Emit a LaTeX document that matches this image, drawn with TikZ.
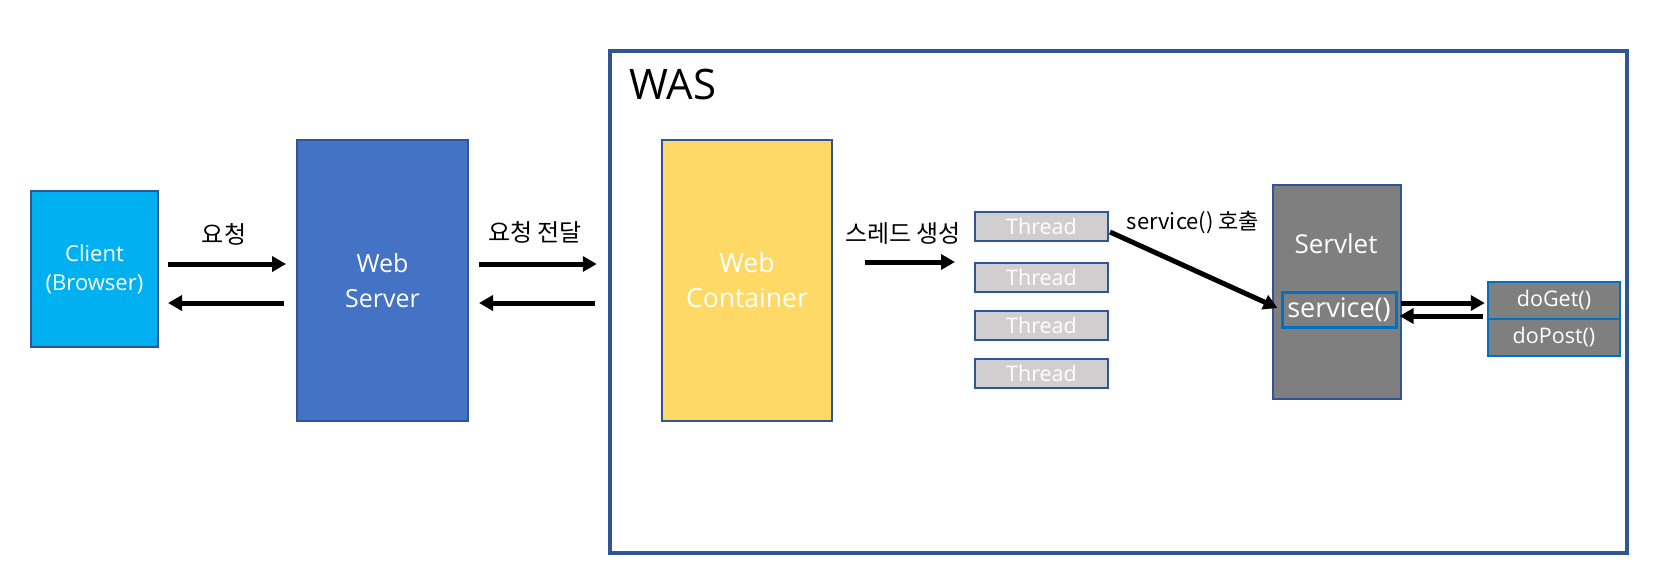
\documentclass[tikz,border=0pt]{standalone}
\usepackage{fontspec}
\setmainfont{Open Sans}
\newfontfamily\kr{Noto Sans CJK KR}
\usetikzlibrary{arrows.meta,calc}
\definecolor{bord}{HTML}{2F5597}
\definecolor{cyanb}{HTML}{00B0F0}
\definecolor{blueb}{HTML}{4472C4}
\definecolor{yel}{HTML}{FFD966}
\definecolor{lgray}{HTML}{D0CECE}
\definecolor{dgray}{HTML}{7F7F7F}
\definecolor{mblue}{HTML}{0070C0}
\tikzset{
  box/.style={draw=bord, line width=2pt, inner sep=0pt, align=center, text=white},
  arr/.style={line width=5pt, -{Triangle[length=14pt,width=15pt]}},
  lbl/.style={inner sep=0pt, font=\kr\fontsize{24}{28}\selectfont},
  threadbox/.style={box, fill=lgray, minimum width=133pt, minimum height=29pt, font=\fontsize{21.5}{24}\selectfont},
  methbox/.style={draw=mblue, line width=2.5pt, fill=dgray, inner sep=0pt, text=white, minimum width=132pt, minimum height=37pt, font=\fontsize{21.5}{24}\selectfont}
}
\begin{document}
\begin{tikzpicture}[x=1pt,y=-1pt]
\useasboundingbox (0,0) rectangle (1656,568);
% WAS frame
\node[draw=bord, line width=4.5pt, minimum width=1017pt, minimum height=502pt, inner sep=0pt] (was) at (1118.5,302) {};
\node[inner sep=0pt, font=\fontsize{42}{46}\selectfont] (wastitle) at (673,84) {WAS};
% main boxes
\node[box, fill=cyanb, minimum width=127pt, minimum height=156pt, font=\fontsize{22}{29}\selectfont] (client) at (94.5,269) {Client\\(Browser)};
\node[box, fill=blueb, minimum width=171pt, minimum height=281pt, font=\fontsize{25}{35}\selectfont] (server) at (382.5,280.5) {Web\\Server};
\node[box, fill=yel, minimum width=170pt, minimum height=281pt, font=\fontsize{26.5}{35}\selectfont] (container) at (747,280.5) {Web\\Container};
% threads
\node[threadbox] (t1) at (1041.5,226.5) {Thread};
\node[threadbox] (t2) at (1041.5,277.5) {Thread};
\node[threadbox] (t3) at (1041.5,325) {Thread};
\node[threadbox] (t4) at (1041.5,373.5) {Thread};
% servlet
\node[box, fill=dgray, minimum width=128pt, minimum height=214pt] (servlet) at (1337,292) {};
\node[inner sep=0pt, text=white, font=\fontsize{26}{30}\selectfont] (servlettitle) at (1336,244) {Servlet};
\node[draw=mblue, line width=3pt, fill=dgray, inner sep=0pt, text=white, minimum width=114pt, minimum height=35pt, font=\fontsize{27}{30}\selectfont] (service) at (1339,309.5) {service()};
% doGet / doPost
\node[methbox] (doget) at (1554,300.5) {doGet()};
\node[methbox] (dopost) at (1554,337.5) {doPost()};
% labels
\node[lbl] (l1) at (224,234) {요청};
\node[lbl] (l2) at (535,232) {요청 전달};
\node[lbl] (l3) at (903,234) {스레드 생성};
\node[lbl, font=\kr\fontsize{22}{26}\selectfont] (l4) at (1193,222) {service() 호출};
% arrows
\draw[arr] ($(client.east)+(9,-5)$) -- ($(server.west)+(-10,-16.5)$);
\draw[arr] ($(server.west)+(-12,22.5)$) -- ($(client.east)+(9,34)$);
\draw[arr] ($(server.east)+(10,-16.5)$) -- ($(was.west)+(-11,-38)$);
\draw[arr] ($(was.west)+(-13,1)$) -- ($(server.east)+(10,22.5)$);
\draw[arr] ($(container.east)+(32,-18.5)$) -- ($(t2.west)+(-19,-15.5)$);
\draw[arr] ($(t1.east)+(1,5.5)$) -- ($(service.west)+(-3,-1.5)$);
\draw[arr] ($(service.east)+(3,-6.5)$) -- ($(doget.west)+(-2,2.5)$);
\draw[arr] ($(doget.west)+(-4,15.5)$) -- ($(service.east)+(2,6.5)$);
\end{tikzpicture}
\end{document}
